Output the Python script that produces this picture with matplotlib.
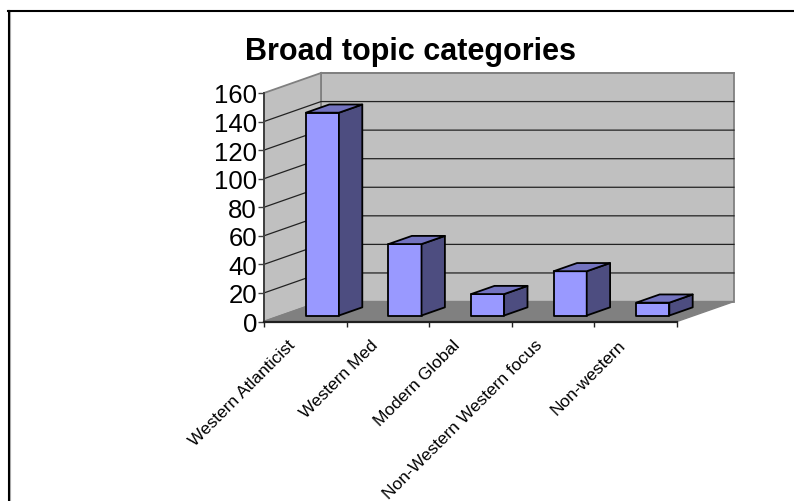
import matplotlib
matplotlib.use("Agg")
import matplotlib.pyplot as plt
from matplotlib.lines import Line2D
from matplotlib.patches import Polygon

categories = ["Western Atlanticist", "Western Med", "Modern Global",
              "Non-Western Western focus", "Non-western"]
values = [142, 50, 15, 31, 9]
y_ticks = [0, 20, 40, 60, 80, 100, 120, 140, 160]

W, H = 794, 502
# plot box in pixels
X0, X1, Y0, Y1 = 264, 734, 322.5, 74
DEPTH_X = 57 / 82.6   # in categories
DEPTH_Y = 20 / 1.43   # in value units
BAR_W = 0.4


def proj(x, y, d):
    # d runs from 0 (front) to 1 (back wall)
    return (x + d * DEPTH_X, y + d * DEPTH_Y)


plt.rcParams['font.family'] = ['Liberation Sans', 'DejaVu Sans']
fig = plt.figure(figsize=(W / 100, H / 100), dpi=100)

# outer frame, only top and left show, right and bottom run off the picture
fig.add_artist(Line2D([10.2 / W, 10.2 / W], [0, 1 - 13 / H], color="#b0b0b0", lw=0.8))
fig.add_artist(Line2D([8.6 / W, 8.6 / W], [0, 1 - 12.3 / H], color="black", lw=1.5))
fig.add_artist(Line2D([8 / W, 1], [1 - 12.3 / H, 1 - 12.3 / H], color="black", lw=1.5))

ax = fig.add_axes([X0 / W, 1 - Y0 / H, (X1 - X0) / W, (Y0 - Y1) / H])
ax.set_xlim(0, len(categories) + DEPTH_X)
ax.set_ylim(0, y_ticks[-1] + DEPTH_Y)
ax.patch.set_visible(False)
for s in ax.spines.values():
    s.set_visible(False)

n = len(categories)
top = y_ticks[-1]

# back wall, side wall, floor
ax.add_patch(Polygon([proj(0, 0, 1), proj(n, 0, 1), proj(n, top, 1), proj(0, top, 1)],
                     fc="#c0c0c0", ec="#808080", lw=1.3, clip_on=False))
ax.add_patch(Polygon([proj(0, 0, 0), proj(0, 0, 1), proj(0, top, 1), proj(0, top, 0)],
                     fc="#c0c0c0", ec="#808080", lw=1.3, clip_on=False))
ax.add_patch(Polygon([proj(0, 0, 0), proj(n, 0, 0), proj(n, 0, 1), proj(0, 0, 1)],
                     fc="#808080", ec="#808080", lw=1, clip_on=False))

# gridlines
for t in y_ticks[1:-1]:
    pts = [proj(0, t, 0), proj(0, t, 1), proj(n, t, 1)]
    ax.plot(*zip(*pts), color="#222222", lw=0.9, solid_joinstyle="miter", clip_on=False)
ax.plot(*zip(proj(0, top, 1), proj(n, top, 1)), color="#808080", lw=1.3, clip_on=False)

# axis lines
ax.plot([0, 0], [0, top], color="#404040", lw=1.4, clip_on=False)
ax.plot([0, n], [0, 0], color="#202020", lw=1.6, clip_on=False)

# bars
for i, v in enumerate(values):
    x_l = i + 0.5 - BAR_W / 2
    x_r = i + 0.5 + BAR_W / 2
    d0, d1 = 0.3, 0.71
    kw = dict(ec="black", lw=1.3, joinstyle="round", clip_on=False, zorder=5)
    ax.add_patch(Polygon([proj(x_l, 0, d0), proj(x_r, 0, d0), proj(x_r, v, d0), proj(x_l, v, d0)],
                         fc="#9999ff", **kw))
    ax.add_patch(Polygon([proj(x_r, 0, d0), proj(x_r, 0, d1), proj(x_r, v, d1), proj(x_r, v, d0)],
                         fc="#4d4d80", **kw))
    ax.add_patch(Polygon([proj(x_l, v, d0), proj(x_r, v, d0), proj(x_r, v, d1), proj(x_l, v, d1)],
                         fc="#7373bf", **kw))

ax.set_yticks(y_ticks)
ax.set_yticklabels([str(t) for t in y_ticks], fontsize=18.5)
ax.tick_params(axis="y", length=4.5, width=1, color="#404040", pad=0.5)
ax.set_xticks(range(n + 1))
ax.set_xticklabels([""] * (n + 1))
ax.tick_params(axis="x", length=3.5, width=1, color="#202020")

# category labels, rotated, right end under the middle of the category
for i, name in enumerate(categories):
    ax.annotate(name, xy=(i + 0.5, 0), xytext=(-13, -11), textcoords="offset points",
                rotation=45, rotation_mode="anchor", ha="right", va="top",
                fontsize=12.5, annotation_clip=False)

fig.text(410.5 / W, 1 - 52 / H, "Broad topic categories", fontsize=22, fontweight="bold",
         ha="center", va="center")

fig.savefig("out.png", dpi=100)
